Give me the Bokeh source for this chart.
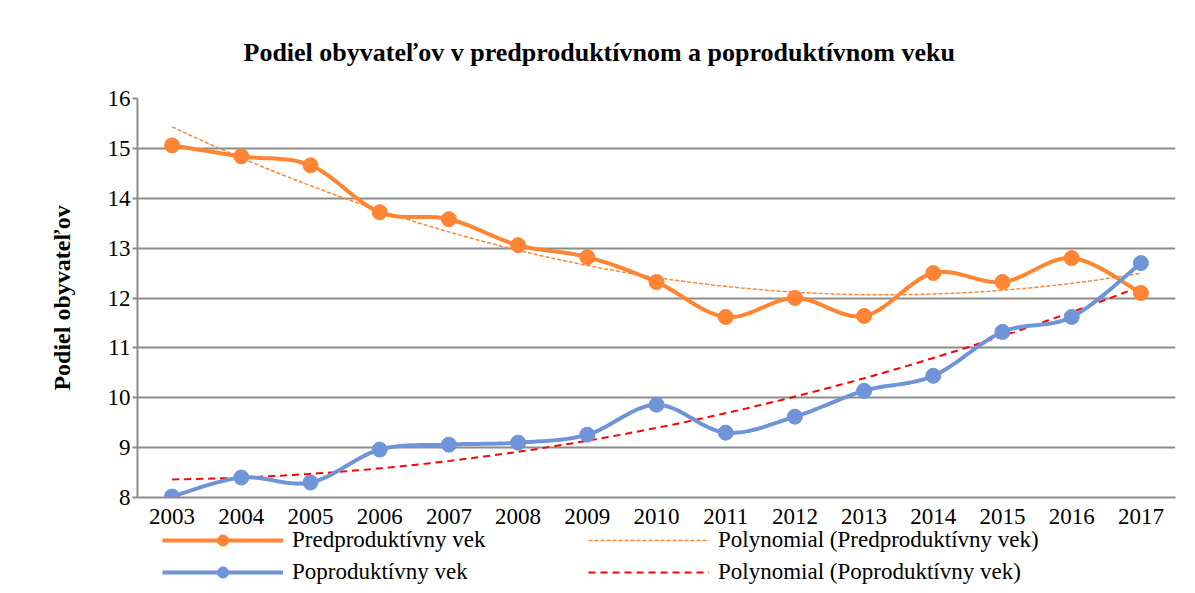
import numpy as np
from bokeh.plotting import figure
from bokeh.layouts import column
from bokeh.models import Legend, LegendItem, FixedTicker, Title
from bokeh.embed import file_html
from bokeh.resources import INLINE

# ---- data ----
years = list(range(2003, 2018))
year_labels = [str(y) for y in years]
pred = [15.06, 14.84, 14.66, 13.72, 13.58, 13.06, 12.82, 12.32, 11.62, 12.00, 11.64, 12.50, 12.32, 12.80, 12.10]
popr = [8.02, 8.40, 8.30, 8.96, 9.06, 9.10, 9.26, 9.86, 9.30, 9.62, 10.14, 10.44, 11.32, 11.62, 12.70]
y_ticks = [8, 9, 10, 11, 12, 13, 14, 15, 16]

title_text = "Podiel obyvateľov v predproduktívnom a poproduktívnom veku"
y_label = "Podiel obyvateľov"
name_pred = "Predproduktívny vek"
name_popr = "Poproduktívny vek"
name_tpred = "Polynomial (Predproduktívny vek)"
name_tpopr = "Polynomial (Poproduktívny vek)"

ORANGE = "#FF8533"
BLUE = "#7094D8"
RED = "#FF0000"
GRID = "#8C8C8C"
FONT = "Liberation Serif"

p = figure(width=1187, height=528, output_backend="svg", toolbar_location=None,
           x_range=(2002.5, 2017.5), y_range=(8, 16),
           min_border_left=137, min_border_right=12, min_border_top=98, min_border_bottom=31)
p.title = None
t = Title(text=title_text, align="left", offset=106, text_font=FONT,
          text_font_size="26px", text_font_style="bold", text_color="black", standoff=64)
p.add_layout(t, "above")
p.outline_line_color = None

# axes
p.xaxis.ticker = FixedTicker(ticks=years)
p.xaxis.major_label_overrides = {y: l for y, l in zip(years, year_labels)}
p.yaxis.ticker = FixedTicker(ticks=y_ticks)
for ax in (p.xaxis[0], p.yaxis[0]):
    ax.axis_line_color = GRID
    ax.axis_line_width = 2
    ax.minor_tick_line_color = None
    ax.major_label_text_font = FONT
    ax.major_label_text_font_size = "23px"
    ax.major_label_text_color = "black"
p.xaxis.major_tick_line_color = None
p.xaxis.major_label_standoff = 5
p.yaxis.major_tick_line_color = GRID
p.yaxis.major_tick_line_width = 2
p.yaxis.major_tick_out = 5
p.yaxis.major_tick_in = 0
p.yaxis.major_label_standoff = 2
p.yaxis.axis_label = y_label
p.yaxis.axis_label_text_font = FONT
p.yaxis.axis_label_text_font_size = "24px"
p.yaxis.axis_label_text_font_style = "bold"
p.yaxis.axis_label_text_color = "black"
p.yaxis.axis_label_standoff = 30

p.xgrid.grid_line_color = None
p.ygrid.grid_line_color = GRID
p.ygrid.grid_line_width = 2


def smooth_curve(xs, ys, steps=24):
    """Sample Catmull-Rom style Bezier smoothing through the data points."""
    n = len(xs)
    xs = np.asarray(xs, dtype=float)
    ys = np.asarray(ys, dtype=float)
    tt = np.linspace(0, 1, steps)
    out_x, out_y = [], []
    for i in range(n - 1):
        a = max(i - 1, 0)
        d = min(i + 2, n - 1)
        P0 = np.array([xs[i], ys[i]])
        P3 = np.array([xs[i + 1], ys[i + 1]])
        P1 = P0 + (P3 - np.array([xs[a], ys[a]])) / 6.0
        P2 = P3 - (np.array([xs[d], ys[d]]) - P0) / 6.0
        tv = tt if i == 0 else tt[1:]
        for tk in tv:
            q = ((1 - tk) ** 3) * P0 + 3 * ((1 - tk) ** 2) * tk * P1 + 3 * (1 - tk) * tk ** 2 * P2 + tk ** 3 * P3
            out_x.append(q[0]); out_y.append(q[1])
    return out_x, out_y


# trendlines (2nd order polynomial fit)
xx = np.linspace(years[0], years[-1], 200)
xr = np.array(years, dtype=float) - years[0]
tpred_y = np.polyval(np.polyfit(xr, pred, 2), xx - years[0])
tpopr_y = np.polyval(np.polyfit(xr, popr, 2), xx - years[0])
spx, spy = smooth_curve(years, pred)
sqx, sqy = smooth_curve(years, popr)


def draw(fig):
    r = {}
    r["tpred"] = fig.line(xx, tpred_y, line_color=ORANGE, line_width=1.5, line_dash="4 2")
    r["tpopr"] = fig.line(xx, tpopr_y, line_color=RED, line_width=2, line_dash="7 5")
    r["pred_l"] = fig.line(spx, spy, line_color=ORANGE, line_width=4)
    r["popr_l"] = fig.line(sqx, sqy, line_color=BLUE, line_width=4)
    r["pred_m"] = fig.scatter(years, pred, size=15, fill_color=ORANGE, line_color=ORANGE)
    r["popr_m"] = fig.scatter(years, popr, size=15, fill_color=BLUE, line_color=BLUE)
    return r


draw(p)

# legend strip below the chart (its own renderers lie outside its visible range)
p2 = figure(width=1187, height=62, output_backend="svg", toolbar_location=None,
            x_range=(0, 1), y_range=(0, 1),
            min_border_left=137, min_border_right=12, min_border_top=0, min_border_bottom=0)
p2.axis.visible = False
p2.grid.grid_line_color = None
p2.outline_line_color = None
rr = draw(p2)
legend = Legend(items=[LegendItem(label=name_pred, renderers=[rr["pred_l"], rr["pred_m"]]),
                       LegendItem(label=name_popr, renderers=[rr["popr_l"], rr["popr_m"]]),
                       LegendItem(label=name_tpred, renderers=[rr["tpred"]]),
                       LegendItem(label=name_tpopr, renderers=[rr["tpopr"]])],
                ncols=2, glyph_width=121, glyph_height=28, label_standoff=9, spacing=4,
                label_width=292, padding=0, margin=0, location=(25, 4),
                border_line_color=None, background_fill_alpha=0,
                label_text_font=FONT, label_text_font_size="23px", label_text_color="black")
p2.add_layout(legend)

open("out.html", "w").write(file_html(column(p, p2, spacing=0), INLINE))
